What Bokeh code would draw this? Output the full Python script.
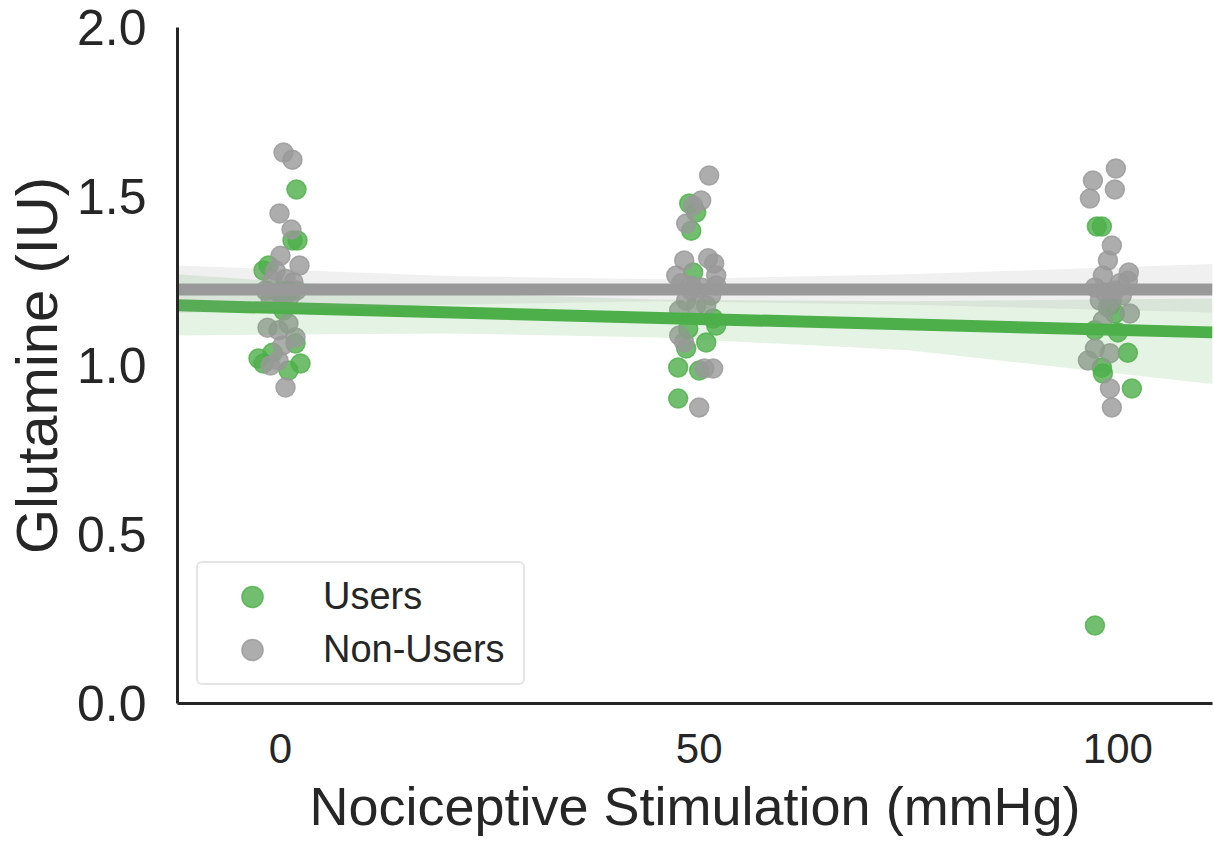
from bokeh.plotting import figure
from bokeh.models import Legend, LegendItem, Range1d, FixedTicker, CustomJSTickFormatter
from bokeh.embed import file_html
from bokeh.resources import INLINE

# Jittered stimulation levels (mmHg) and glutamine values (IU)
users_x = [1.91, 1.43, 2.03, -2.03, -1.43, -2.63, -0.95, 2.39, 0.95, 1.79, -2.03, 0.36, 0.84,
           48.81, 49.64, 49.05, 49.28, 52.03, 50.84, 48.45, 47.49, 50.0, 47.49, 48.69, 51.67,
           97.49, 98.09, 99.64, 100.0, 101.19, 98.09, 98.21, 101.67, 97.26, 97.26, 99.05]
users_y = [1.521, 1.370, 1.370, 1.281, 1.296, 1.021, 1.038, 1.006, 0.985, 1.065, 1.006, 1.163, 1.222,
           1.479, 1.453, 1.399, 1.275, 1.118, 1.068, 1.050, 0.994, 0.985, 0.902, 1.109, 1.139,
           1.411, 1.411, 1.154, 1.098, 1.038, 0.994, 0.976, 0.932, 0.231, 1.104, 1.178]

nonusers_x = [0.36, 1.43, -0.12, 1.31, 0.0, 2.27, -1.79, -0.95, 0.60, 1.55, -0.24, 1.19,
              -1.19, 0.36, 1.91, -0.60, -1.55, 0.95, 1.79, -0.24, -0.24, -1.19, 0.60, 0.24,
              51.19, 50.24, 49.28, 48.45, 48.21, 51.07, 51.79, 52.03, 47.26, 47.85, 49.05, 50.24,
              51.43, 48.45, 49.64, 50.84, 47.61, 49.05, 47.61, 48.21, 50.60, 51.67, 50.0, 52.03,
              99.76, 97.02, 96.66, 99.64, 99.28, 98.81, 98.21, 101.31, 101.19, 97.26, 98.45, 99.64,
              97.85, 99.28, 100.48, 98.81, 101.43, 98.21, 97.26, 96.42, 99.05, 99.05, 99.28, 100.24]
nonusers_y = [1.630, 1.609, 1.450, 1.402, 1.325, 1.296, 1.222, 1.251, 1.257, 1.246, 1.216, 1.207,
              1.198, 1.192, 1.222, 1.281, 1.112, 1.124, 1.083, 1.104, 1.015, 1.000, 0.935, 1.059,
              1.562, 1.488, 1.473, 1.420, 1.311, 1.317, 1.302, 1.266, 1.266, 1.243, 1.222, 1.231,
              1.207, 1.192, 1.178, 1.178, 1.163, 1.237, 1.089, 1.068, 0.991, 0.991, 0.876, 1.237,
              1.583, 1.547, 1.494, 1.521, 1.355, 1.311, 1.266, 1.275, 1.251, 1.231, 1.216, 1.222,
              1.192, 1.192, 1.207, 1.172, 1.154, 1.133, 1.050, 1.015, 1.036, 0.932, 0.876, 1.243]

# Linear fits and their confidence bands
fit_x = [-12.3, 111.3]
users_fit = [1.178, 1.098]
nonusers_fit = [1.225, 1.225]

band_x = [-12.3, 20, 45, 75, 111.3]
users_lo = [1.089, 1.095, 1.083, 1.045, 0.945]
users_hi = [1.270, 1.215, 1.195, 1.190, 1.198]
nonusers_lo = [1.155, 1.180, 1.190, 1.180, 1.157]
nonusers_hi = [1.296, 1.265, 1.255, 1.270, 1.300]

x_ticks = [0, 50, 100]
y_ticks = [0.0, 0.5, 1.0, 1.5, 2.0]

GREEN = "#4daf4a"
GRAY = "#999999"
INK = "#262626"
FONT = "Liberation Sans"

p = figure(width=1214, height=841, output_backend="svg", toolbar_location=None,
           x_range=Range1d(-12.3, 111.3), y_range=Range1d(0, 2.0),
           min_border_left=176, min_border_right=2, min_border_top=27, min_border_bottom=138)

p.outline_line_color = None
p.xgrid.visible = False
p.ygrid.visible = False
p.background_fill_color = "white"

pts_users = p.scatter(users_x, users_y, size=19, fill_color=GREEN, fill_alpha=0.8,
                      line_color=GREEN, line_alpha=0.8, line_width=1.5)
pts_non = p.scatter(nonusers_x, nonusers_y, size=19, fill_color=GRAY, fill_alpha=0.8,
                    line_color=GRAY, line_alpha=0.8, line_width=1.5)

p.varea(x=band_x, y1=users_lo, y2=users_hi, fill_color=GREEN, fill_alpha=0.15)
p.line(fit_x, users_fit, line_color=GREEN, line_width=12)
p.varea(x=band_x, y1=nonusers_lo, y2=nonusers_hi, fill_color=GRAY, fill_alpha=0.15)
p.line(fit_x, nonusers_fit, line_color=GRAY, line_width=12)

for ax in (p.xaxis[0], p.yaxis[0]):
    ax.axis_line_color = INK
    ax.axis_line_width = 3
    ax.major_tick_line_color = None
    ax.minor_tick_line_color = None
    ax.major_label_text_color = INK
    ax.major_label_text_font = FONT
    ax.axis_label_text_color = INK
    ax.axis_label_text_font = FONT
    ax.axis_label_text_font_style = "normal"

p.xaxis.ticker = FixedTicker(ticks=x_ticks)
p.yaxis.ticker = FixedTicker(ticks=y_ticks)
p.yaxis.formatter = CustomJSTickFormatter(code="return tick.toFixed(1);")

p.xaxis.axis_label = "Nociceptive Stimulation (mmHg)"
p.xaxis.axis_label_text_font_size = "54px"
p.xaxis.major_label_text_font_size = "42px"
p.xaxis.major_label_standoff = 24
p.xaxis.axis_label_standoff = 10

p.yaxis.axis_label = "Glutamine (IU)"
p.yaxis.axis_label_text_font_size = "58px"
p.yaxis.axis_label_text_line_height = 1.0
p.yaxis.major_label_text_font_size = "50px"
p.yaxis.major_label_standoff = 25
p.yaxis.axis_label_standoff = 5

legend = Legend(items=[LegendItem(label="Users", renderers=[pts_users]),
                       LegendItem(label="Non-Users", renderers=[pts_non])],
                location=(19, 18), orientation="vertical",
                label_text_font=FONT, label_text_font_size="38px", label_text_color=INK,
                glyph_width=94, glyph_height=53, label_height=53, label_width=193,
                label_standoff=24, padding=7, spacing=0, margin=0,
                border_line_color="#cccccc", border_line_width=2, border_radius=6,
                background_fill_color="white", background_fill_alpha=0.8)
p.add_layout(legend, "center")

open("out.html", "w").write(file_html(p, INLINE))
